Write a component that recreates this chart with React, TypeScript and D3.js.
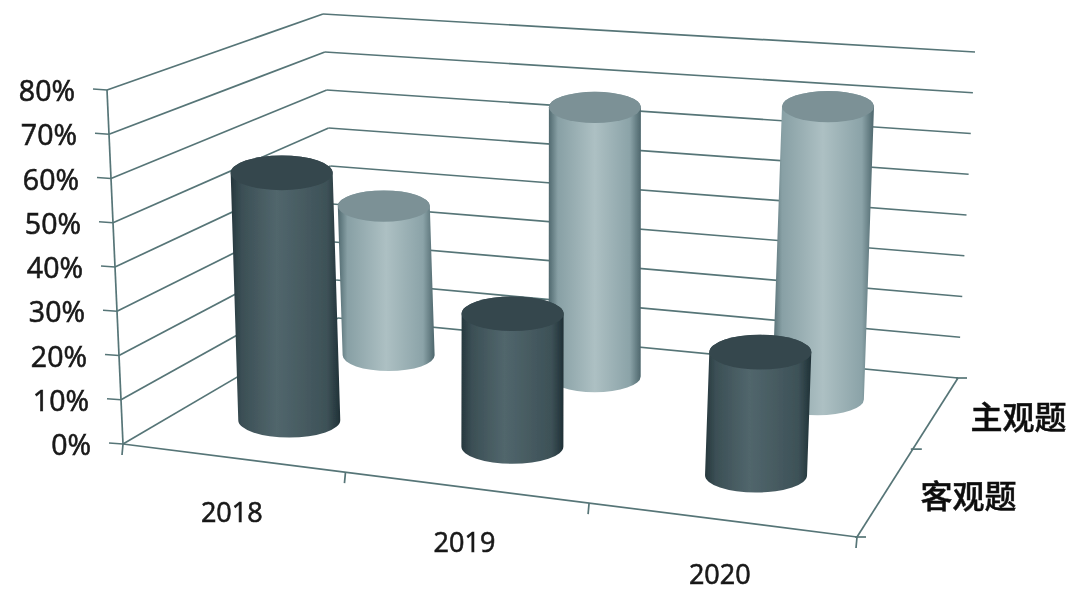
import React from 'react';
import * as d3 from 'd3';

// chart values
const years = ['2018', '2019', '2020'];
const depthSeries = ['客观题', '主观题'];
const objective = [57.5, 30, 27];
const subjective = [37.5, 66, 70];
const valueTicks = [0, 10, 20, 30, 40, 50, 60, 70, 80];

type Pt = [number, number];

// plane corners of the 3D box as seen on the page: front-left, front-right, back-right, back-left
const floorCorners: Pt[] = [[123, 444], [857, 537], [958, 378], [338, 318]];
const topCorners: Pt[] = [[107, 90], [877, 148], [975, 52], [323, 14]];

// maps the unit square onto a quadrilateral, so the floor keeps its perspective
const homography = ([p0, p1, p2, p3]: Pt[]) => {
  const dx1 = p1[0] - p2[0], dy1 = p1[1] - p2[1];
  const dx2 = p3[0] - p2[0], dy2 = p3[1] - p2[1];
  const sx = p0[0] - p1[0] + p2[0] - p3[0], sy = p0[1] - p1[1] + p2[1] - p3[1];
  const det = dx1 * dy2 - dy1 * dx2;
  const g = (sx * dy2 - sy * dx2) / det;
  const h = (dx1 * sy - dy1 * sx) / det;
  const a = p1[0] - p0[0] + g * p1[0], b = p3[0] - p0[0] + h * p3[0];
  const d = p1[1] - p0[1] + g * p1[1], e = p3[1] - p0[1] + h * p3[1];
  return (u: number, w: number): Pt => {
    const k = g * u + h * w + 1;
    return [(a * u + b * w + p0[0]) / k, (d * u + e * w + p0[1]) / k];
  };
};

const floor = homography(floorCorners);
const ceiling = homography(topCorners);

const xBand = d3.scaleBand<string>().domain(years).range([0, 1]);
const zBand = d3.scaleBand<string>().domain(depthSeries).range([0, 1]);
const yScale = d3.scaleLinear().domain([0, 80]).range([0, 1]);

const project = (u: number, w: number, value: number): Pt => {
  const t = yScale(value);
  const a = floor(u, w), b = ceiling(u, w);
  return [d3.interpolateNumber(a[0], b[0])(t), d3.interpolateNumber(a[1], b[1])(t)];
};

const seg = (a: Pt, b: Pt) => `M${a[0]},${a[1]}L${b[0]},${b[1]}`;
const lineColor = '#567577';

const Cylinder: React.FC<{ year: string; series: string; value: number; radius: number; gradient: string; cap: string }> = ({ year, series, value, radius, gradient, cap }) => {
  const u = (xBand(year) as number) + xBand.bandwidth() / 2;
  const w = (zBand(series) as number) + zBand.bandwidth() / 2;
  const [bx, by] = project(u, w, 0);
  const [tx, ty] = project(u, w, value);
  const ry = radius * 0.34;
  const body = `M${tx - radius},${ty}L${bx - radius},${by}A${radius},${ry} 0 0 0 ${bx + radius},${by}L${tx + radius},${ty}A${radius},${ry} 0 0 0 ${tx - radius},${ty}Z`;
  return (
    <g>
      <path d={body} fill={`url(#${gradient})`} />
      <ellipse cx={tx} cy={ty} rx={radius} ry={ry} fill={cap} />
    </g>
  );
};

export default function App() {
  const labelFont = '"Open Sans", "Noto Sans", sans-serif';
  return (
    <svg width={1080} height={591} style={{ position: 'absolute', left: 0, top: 0, background: '#fff' }}>
      <defs>
        <filter id="soft" x="-5%" y="-5%" width="110%" height="110%">
          <feGaussianBlur stdDeviation="0.6" />
        </filter>
        <linearGradient id="darkBody" x1="0" x2="1" y1="0" y2="0">
          <stop offset="0%" stopColor="#26373d" />
          <stop offset="10%" stopColor="#3b4f55" />
          <stop offset="42%" stopColor="#51666c" />
          <stop offset="88%" stopColor="#3d5157" />
          <stop offset="100%" stopColor="#1f3036" />
        </linearGradient>
        <linearGradient id="lightBody" x1="0" x2="1" y1="0" y2="0">
          <stop offset="0%" stopColor="#4f686e" />
          <stop offset="10%" stopColor="#88a0a5" />
          <stop offset="50%" stopColor="#adc0c3" />
          <stop offset="88%" stopColor="#8ba3a8" />
          <stop offset="100%" stopColor="#4d666c" />
        </linearGradient>
      </defs>
      <g filter="url(#soft)">
        {/* walls and floor */}
        <g fill="none" stroke={lineColor} strokeWidth={1.7}>
          {valueTicks.map(v => (
            <g key={v}>
              <path d={seg(project(0, 0, v), project(0, 1, v))} />
              <path d={seg(project(0, 1, v), project(1, 1, v))} />
              <path d={seg(project(0, 0, v), [project(0, 0, v)[0] - 14, project(0, 0, v)[1] - 1])} />
            </g>
          ))}
          <path d={seg(project(0, 0, 0), project(0, 0, 80))} />
          <path d={seg(floor(0, 0), floor(1, 0))} />
          <path d={seg(floor(1, 0), floor(1, 1))} />
          {[0, 1 / 3, 2 / 3, 1].map(u => (
            <path key={u} d={seg(floor(u, 0), [floor(u, 0)[0] - 1, floor(u, 0)[1] + 11])} />
          ))}
          {[0, 0.5, 1].map(w => (
            <path key={w} d={seg([floor(1, w)[0] - 2, floor(1, w)[1]], [floor(1, w)[0] + 9, floor(1, w)[1]])} />
          ))}
        </g>

        {/* back row first, the front row overlaps it */}
        {years.map((y, i) => (
          <Cylinder key={y} year={y} series="主观题" value={subjective[i]} radius={46} gradient="lightBody" cap="#7b9196" />
        ))}
        {years.map((y, i) => (
          <Cylinder key={y} year={y} series="客观题" value={objective[i]} radius={51} gradient="darkBody" cap="#35474d" />
        ))}

        <g fontFamily={labelFont} fill="#1a1a1a" stroke="#1a1a1a" strokeWidth={0.6}>
          {valueTicks.map(v => {
            const p = project(0, 0, v);
            return (
              <text key={v} x={p[0] - 32} y={p[1]} fontSize={28.5} textAnchor="end" dominantBaseline="central">{v}%</text>
            );
          })}
          {years.map(y => {
            const p = floor((xBand(y) as number) + xBand.bandwidth() / 2, 0);
            return (
              <text key={y} x={p[0]} y={p[1] + 54} fontSize={27} textAnchor="middle" dominantBaseline="central">{y}</text>
            );
          })}
        </g>
        <g fontFamily='"Noto Sans CJK SC", sans-serif' fontSize={32} fontWeight={500} fill="#111" stroke="#111" strokeWidth={0.5}>
          {depthSeries.map(s => {
            const p = floor(1, (zBand(s) as number) + zBand.bandwidth() / 2);
            return (
              <text key={s} x={p[0] + 82} y={p[1] + 3} textAnchor="middle" dominantBaseline="central">{s}</text>
            );
          })}
        </g>
      </g>
    </svg>
  );
}
